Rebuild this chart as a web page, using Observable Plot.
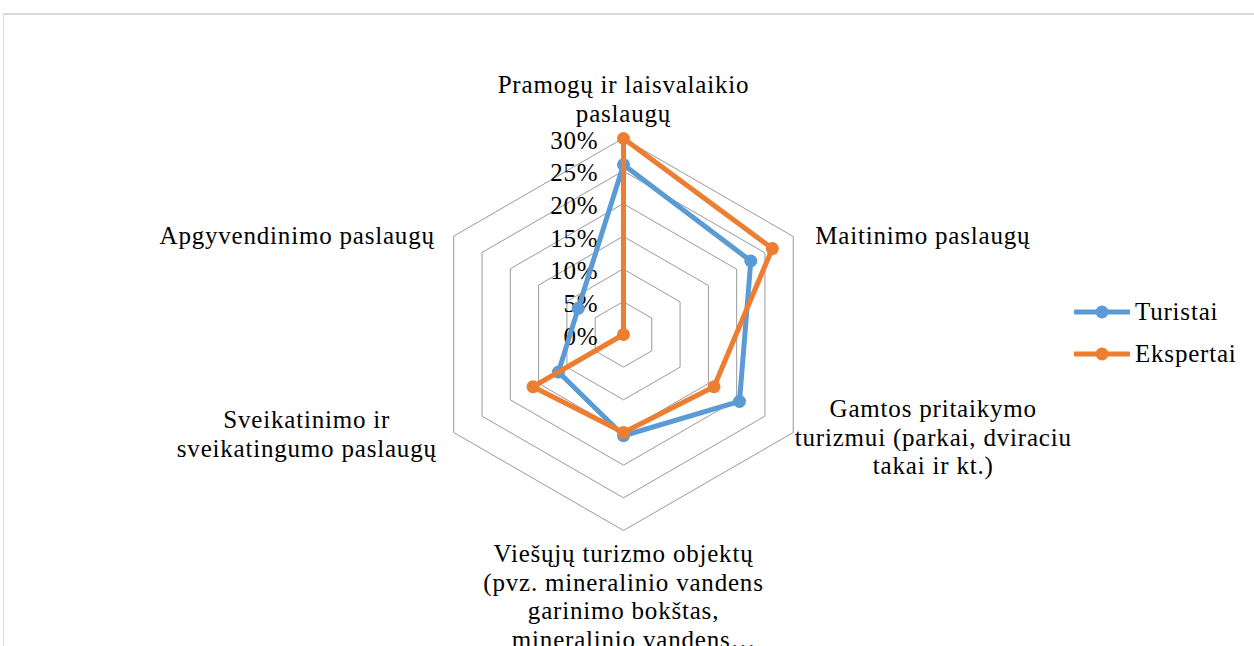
<!DOCTYPE html>
<html><head><meta charset="utf-8">
<script src="https://cdn.jsdelivr.net/npm/d3@7"></script>
<script src="https://cdn.jsdelivr.net/npm/@observablehq/plot@0.6"></script>
<style>
html,body{margin:0;padding:0;background:#fff;}
#wrap{position:relative;width:1254px;height:646px;overflow:hidden;font-family:"Liberation Serif","Times New Roman",serif;}
#frame{position:absolute;left:3px;top:13px;width:1400px;height:800px;border-top:2px solid #d9d9d9;border-left:1px solid #d9d9d9;}
#chart{position:absolute;left:0;top:0;}
#legend{position:absolute;left:1074px;top:0;font-size:25px;letter-spacing:0.8px;color:#000;}
.item{position:absolute;left:0;display:flex;align-items:center;height:40px;white-space:nowrap;}
.item svg{display:block;margin-right:5px;}
</style></head><body>
<div id="wrap"><div id="frame"></div><div id="chart"></div><div id="legend"></div></div>
<script>
// ---- data ----
const categories = [
  "Pramogų ir laisvalaikio\npaslaugų",
  "Maitinimo paslaugų",
  "Gamtos pritaikymo\nturizmui (parkai, dviraciu\ntakai ir kt.)",
  "Viešųjų turizmo objektų\n(pvz. mineralinio vandens\ngarinimo bokštas,\n\u00a0\u00a0\u00a0mineralinio vandens…",
  "Sveikatinimo ir\nsveikatingumo paslaugų",
  "Apgyvendinimo paslaugų"
];
const seriesNames = ["Turistai", "Ekspertai"];
const turistai = [26, 22.5, 20.5, 15.5, 11.5, 8];
const ekspertai = [30, 26.3, 16, 15, 16, 0];
const ticks = [0, 5, 10, 15, 20, 25, 30];
const tickLabels = ["0%", "5%", "10%", "15%", "20%", "25%", "30%"];
const colors = ["#5B9BD5", "#ED7D31"];

// ---- layout ----
const W = 1254, H = 646, cx = 623, cy = 334, R = 196;
const vmax = d3.max(ticks);
const k = vmax / R;
const n = categories.length;
const px = (v, i) => v * Math.sin(i * 2 * Math.PI / n);
const py = (v, i) => v * Math.cos(i * 2 * Math.PI / n);
const labelLayout = [
  {textAnchor: "middle", lineAnchor: "bottom", dx: 0, dy: -17},
  {textAnchor: "start", lineAnchor: "middle", dx: 22, dy: -2},
  {textAnchor: "middle", lineAnchor: "middle", dx: 140, dy: 4},
  {textAnchor: "middle", lineAnchor: "top", dx: 0, dy: 11},
  {textAnchor: "middle", lineAnchor: "middle", dx: -147, dy: 1},
  {textAnchor: "end", lineAnchor: "middle", dx: -19, dy: -2}
];

const values = [turistai, ekspertai];
const rows = seriesNames.flatMap((s, si) => values[si].map((v, i) => ({s, i, v, x: px(v, i), y: py(v, i)})));
const rings = ticks.filter(t => t > 0).flatMap(t => d3.range(n).map(i => ({t, x: px(t, i), y: py(t, i)})));

const marks = [
  Plot.line(rings, {x: "x", y: "y", z: "t", curve: "linear-closed", stroke: "#999999", strokeWidth: 1}),
  Plot.text(ticks, {x: () => 0, y: d => d, text: (d, i) => tickLabels[i], textAnchor: "end", lineAnchor: "middle", dx: -25, dy: 2, fill: "#000"}),
  ...categories.map((c, i) => Plot.text([c], {
    x: () => px(vmax, i), y: () => py(vmax, i), text: d => d,
    lineHeight: 1.15, fill: "#000", ...labelLayout[i]
  })),
  ...seriesNames.flatMap(s => {
    const d = rows.filter(r => r.s === s);
    return [
      Plot.line(d, {x: "x", y: "y", stroke: "s", curve: "linear-closed", strokeWidth: 5, strokeLinejoin: "round"}),
      Plot.dot(d, {x: "x", y: "y", fill: "s", r: 6.5, stroke: "none"})
    ];
  })
];

const chart = Plot.plot({
  width: W, height: H, margin: 0,
  x: {domain: [-cx * k, (W - cx) * k], axis: null},
  y: {domain: [-(H - cy) * k, cy * k], axis: null},
  color: {domain: seriesNames, range: colors},
  style: {fontFamily: "'Liberation Serif','Times New Roman',serif", fontSize: "25px", letterSpacing: "0.8px", background: "transparent", overflow: "visible"},
  marks
});
document.getElementById("chart").appendChild(chart);

// ---- legend ----
const legend = document.getElementById("legend");
const legendTop = [292, 334];
seriesNames.forEach((s, i) => {
  const item = document.createElement("div");
  item.className = "item";
  item.style.top = legendTop[i] + "px";
  item.innerHTML = `<svg width="56" height="20"><line x1="1" x2="55" y1="10" y2="10" stroke="${colors[i]}" stroke-width="5" stroke-linecap="round"/><circle cx="28" cy="10" r="6.5" fill="${colors[i]}"/></svg><span>${s}</span>`;
  legend.appendChild(item);
});
</script>
</body></html>
